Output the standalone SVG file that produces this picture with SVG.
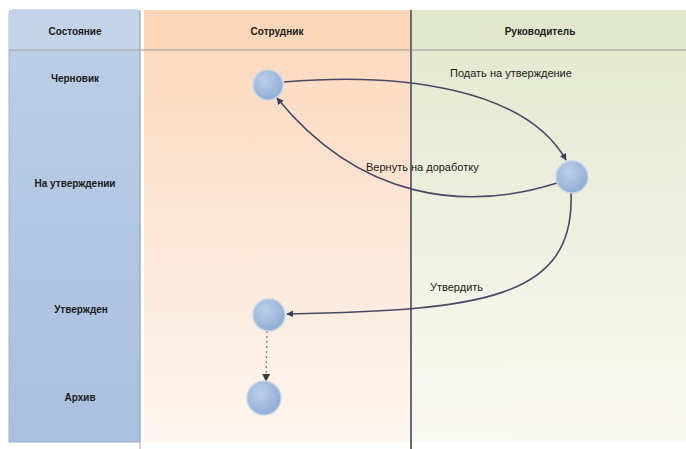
<svg xmlns="http://www.w3.org/2000/svg" width="686" height="449" viewBox="0 0 686 449">
<style>
.hdr{font-family:"Liberation Sans",Arial,sans-serif;font-size:10px;font-weight:bold;fill:#1a1a1a;text-anchor:middle}
.lbl{font-family:"Liberation Sans",Arial,sans-serif;font-size:11px;fill:#1a1a1a}
.edge{fill:none;stroke:#4a4868;stroke-width:1.6}
.dot{fill:none;stroke:#8a8a8a;stroke-width:1.4;stroke-dasharray:2 3}
.node{fill:url(#ng);stroke:#c5d4e8;stroke-width:1.5}
</style>
<defs>
<linearGradient id="bg1" x1="0" y1="0" x2="0" y2="1">
<stop offset="0" stop-color="#bccfe6"/><stop offset="1" stop-color="#a9c0de"/>
</linearGradient>
<linearGradient id="og" x1="0" y1="0" x2="0" y2="1">
<stop offset="0" stop-color="#fcd8bb"/><stop offset="0.5" stop-color="#fbe6d6"/><stop offset="1" stop-color="#fdf6f0"/>
</linearGradient>
<linearGradient id="gg" x1="0" y1="0" x2="0" y2="1">
<stop offset="0" stop-color="#e2e8cc"/><stop offset="0.5" stop-color="#eef0e0"/><stop offset="1" stop-color="#fafaf4"/>
</linearGradient>
<radialGradient id="ng" cx="0.4" cy="0.35" r="0.7">
<stop offset="0" stop-color="#bcd0ea"/><stop offset="1" stop-color="#8eaad2"/>
</radialGradient>
<marker id="ah" viewBox="0 0 10 10" refX="9" refY="5" markerWidth="7" markerHeight="7" orient="auto-start-reverse" markerUnits="userSpaceOnUse">
<path d="M0,0 L10,5 L0,10 z" fill="#3e3c5c"/>
</marker>
<marker id="ahd" viewBox="0 0 10 10" refX="9" refY="5" markerWidth="8" markerHeight="8" orient="auto" markerUnits="userSpaceOnUse">
<path d="M0,0 L10,5 L0,10 z" fill="#3a3a3a"/>
</marker>
</defs>
<rect width="686" height="449" fill="#ffffff"/>
<g id="lanes">
<path d="M9,442 L9,14 Q9,10 13,10 L136,10 Q140,10 140,14 L140,442 Z" fill="url(#bg1)" stroke="#9fb4d2" stroke-width="1"/>
<rect x="9" y="10" width="131" height="40" fill="#c6d5e9" opacity="0.8"/>
<rect x="144" y="10" width="266" height="432" fill="url(#og)"/>
<rect x="144" y="10" width="266" height="40" fill="#fbd6b8"/>
<rect x="412" y="10" width="274" height="432" fill="url(#gg)"/>
<rect x="412" y="10" width="274" height="40" fill="#e0e7cc"/>
<line x1="9" y1="50" x2="686" y2="50" stroke="#a9a9a0" stroke-width="2" opacity="0.6"/>
<line x1="411" y1="10" x2="411" y2="449" stroke="#6a6a78" stroke-width="2"/>
<line x1="140" y1="10" x2="140" y2="449" stroke="#9eaac0" stroke-width="1"/>
</g>
<g id="headers">
<text class="hdr" x="75" y="35">Состояние</text>
<text class="hdr" x="277" y="35">Сотрудник</text>
<text class="hdr" x="540" y="35">Руководитель</text>
</g>
<g id="states">
<text class="hdr" x="75" y="82">Черновик</text>
<text class="hdr" x="75" y="187">На утверждении</text>
<text class="hdr" x="81" y="313">Утвержден</text>
<text class="hdr" x="80" y="401">Архив</text>
</g>
<g id="connectors">
<path class="edge" d="M284,82 C400,72 525,88 566,160" marker-end="url(#ah)"/>
<path class="edge" d="M557,183 C465,212 360,200 277,98" marker-end="url(#ah)"/>
<path class="edge" d="M571,193 C575,300 480,310 287,314" marker-end="url(#ah)"/>
<path class="dot" d="M267,331 L266,381" marker-end="url(#ahd)"/>
<text class="lbl" x="450" y="77">Подать на утверждение</text>
<text class="lbl" x="366" y="171">Вернуть на доработку</text>
<text class="lbl" x="430" y="291">Утвердить</text>
</g>
<g id="node-draft"><circle class="node" cx="268" cy="85" r="15"/></g>
<g id="node-review"><circle class="node" cx="572" cy="177" r="16"/></g>
<g id="node-approved"><circle class="node" cx="269" cy="315" r="16"/></g>
<g id="node-archive"><circle class="node" cx="264" cy="398" r="17"/></g>
</svg>
